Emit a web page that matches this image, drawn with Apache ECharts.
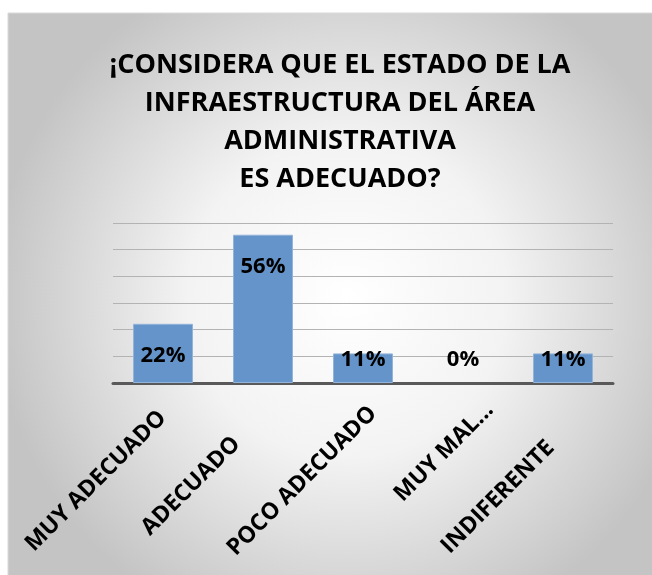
<!DOCTYPE html>
<html>
<head>
<meta charset="utf-8">
<script src="https://cdn.jsdelivr.net/npm/echarts@6/dist/echarts.min.js"></script>
<style>html,body{margin:0;padding:0;background:#fff;}#c{width:652px;height:575px;}</style>
</head>
<body>
<div id="c"></div>
<script>
var titleLines = ['¡CONSIDERA QUE EL ESTADO DE LA', 'INFRAESTRUCTURA DEL ÁREA', 'ADMINISTRATIVA', 'ES ADECUADO?'];
var categories = ['MUY ADECUADO', 'ADECUADO', 'POCO ADECUADO', 'MUY MAL...', 'INDIFERENTE'];
var values = [22.2, 55.6, 11.1, 0, 11.1];
var valueLabels = ['22%', '56%', '11%', '0%', '11%'];
var yTicks = [0, 10, 20, 30, 40, 50, 60];

// layout: where each rotated category label's centre sits relative to its tick (Excel-style placement)
var LABEL_NUDGE_X = [-67, -72, -61, -19, -65];
var LABEL_NUDGE_Y = [98, 103, 98, 69, 114];

var FONT = '"Open Sans"';
var chart = echarts.init(document.getElementById('c'), null, {renderer: 'canvas'});

var seriesData = values.map(function (v, i) {
  var big = v > 15;
  var d = {
    value: v,
    label: big
      ? {position: 'insideTop', distance: 21}
      : {position: 'insideBottom', distance: 12}
  };
  if (v === 0) d.itemStyle = {borderWidth: 0, color: 'rgba(0,0,0,0)'};
  return d;
});

var bgRect = {
  id: 'bg', type: 'rect', z: -10, silent: true,
  shape: {x: 8, y: 13, width: 652, height: 570},
  style: {
    fill: new echarts.graphic.RadialGradient(0.52, 0.5, 0.62, [
      {offset: 0, color: '#ffffff'},
      {offset: 0.45, color: '#f3f3f3'},
      {offset: 1, color: '#c4c4c4'}
    ]),
    stroke: '#d9d9d9', lineWidth: 1
  }
};

chart.setOption({
  animation: false,
  backgroundColor: '#ffffff',
  graphic: [bgRect],
  title: {
    text: titleLines.join('\n'),
    left: 340, top: 46, textAlign: 'center', padding: 0,
    textStyle: {fontFamily: FONT, fontWeight: 'bold', fontSize: 27, lineHeight: 38, color: '#000'}
  },
  grid: {left: 113, right: 39, top: 223, bottom: 192, containLabel: false, outerBoundsMode: 'none'},
  xAxis: {
    type: 'category', data: categories,
    axisLine: {lineStyle: {color: '#595959', width: 3}},
    axisTick: {show: false},
    axisLabel: {show: false}
  },
  yAxis: {
    type: 'value', min: yTicks[0], max: yTicks[yTicks.length - 1], interval: 10,
    axisLine: {show: false}, axisTick: {show: false}, axisLabel: {show: false},
    splitLine: {lineStyle: {color: '#b3b3b3', width: 1}}
  },
  series: [{
    type: 'bar', data: seriesData, barWidth: '60%',
    itemStyle: {color: '#6494c9', borderColor: '#92b3da', borderWidth: 1},
    label: {
      show: true, fontFamily: FONT, fontWeight: 'bold', fontSize: 22, color: '#000',
      formatter: function (p) { return valueLabels[p.dataIndex]; }
    }
  }]
});

// rotated category labels, anchored on the axis' own tick positions
var axisY = chart.convertToPixel({yAxisIndex: 0}, 0);
var labelEls = categories.map(function (c, i) {
  var tx = chart.convertToPixel({xAxisIndex: 0}, c);
  return {
    id: 'cat' + i, type: 'text', silent: true,
    x: tx + LABEL_NUDGE_X[i], y: axisY + LABEL_NUDGE_Y[i],
    rotation: Math.PI / 4,
    style: {
      text: c, fill: '#000',
      font: 'bold 23px ' + FONT,
      align: 'center', verticalAlign: 'middle'
    }
  };
});
chart.setOption({graphic: [bgRect].concat(labelEls)});
</script>
</body>
</html>
